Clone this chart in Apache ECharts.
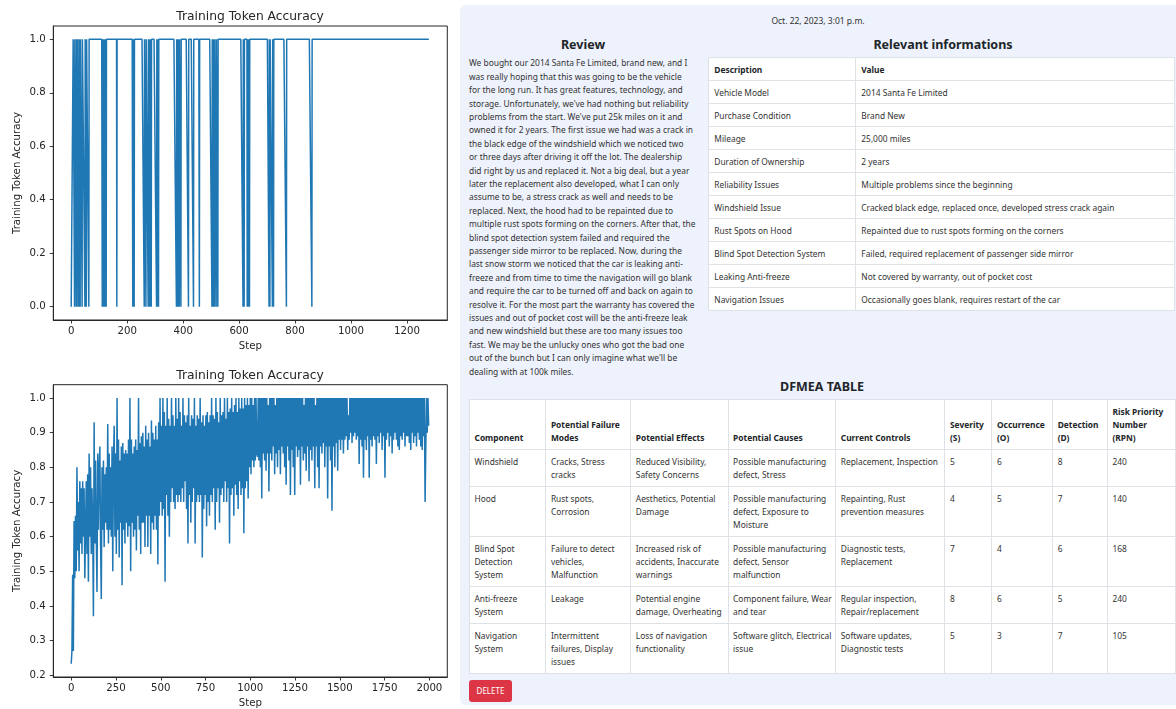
<!DOCTYPE html>
<html>
<head>
<meta charset="utf-8">
<script src="https://cdn.jsdelivr.net/npm/echarts@6/dist/echarts.min.js"></script>
<style>
  html,body{margin:0;padding:0;}
  body{width:1176px;height:709px;overflow:hidden;background:#fff;font-family:'Noto Sans',sans-serif;color:#212529;position:relative;}
  #chart{position:absolute;left:0;top:0;width:460px;height:709px;}
  #panel{position:absolute;left:460px;top:5px;width:740px;height:700px;background:#eef2fc;border-radius:6px;}
  .abs{position:absolute;}
  #date{left:0;width:716px;top:10px;text-align:center;font-size:8.5px;line-height:12px;color:#333;}
  h3{margin:0;font-weight:700;font-size:12.5px;line-height:16px;text-align:center;color:#212529;position:absolute;}
  #reviewHead{left:0;width:246px;top:32px;}
  #review{left:9px;top:51.3px;font-size:8.4px;line-height:13.4px;white-space:pre;color:#333;}
  #infoHead{left:248px;width:470px;top:32px;}
  table{border-collapse:collapse;background:#fff;position:absolute;table-layout:fixed;}
  td,th{border:1px solid #dee2e6;font-size:8.4px;line-height:13px;white-space:pre;text-align:left;color:#333;overflow:hidden;}
  th{font-weight:700;color:#212529;}
  #info{left:248.3px;top:52px;width:466px;}
  #info td,#info th{padding:4.5px 5px;vertical-align:middle;}
  #dfHead{left:0;width:724px;top:374.3px;}
  #dfmea{left:9px;top:394.3px;width:706px;}
  #dfmea th{padding:5px 4.5px;vertical-align:bottom;}
  #dfmea td{padding:5px 4.5px;vertical-align:top;}
  #del{left:9px;top:675px;width:43px;height:22px;background:#dc3545;border-radius:3px;color:#fff;font-size:8px;line-height:22px;text-align:center;}
</style>
</head>
<body>
<div id="chart"></div>
<div id="panel">
  <div id="date" class="abs">Oct. 22, 2023, 3:01 p.m.</div>
  <h3 id="reviewHead">Review</h3>
  <div id="review" class="abs"></div>
  <h3 id="infoHead">Relevant informations</h3>
  <table id="info"></table>
  <h3 id="dfHead">DFMEA TABLE</h3>
  <table id="dfmea"></table>
  <div id="del" class="abs">DELETE</div>
</div>
<script>
// ---------------- chart data ----------------
const chartTitle = 'Training Token Accuracy';
const xAxisName = 'Step';
const yAxisName = 'Training Token Accuracy';

// Top chart: accuracy is 1.0 except at these steps, where it drops to 0.0
const topLastStep = 1280;
const topZeroSteps = [0,1,2,3,4,5,6,12,18,21,27,32,39,49,54,63,111,115,119,122,125,163,220,225,
  261,267,275,279,283,286,305,309,312,376,381,386,392,419,437,458,503,508,512,518,524,
  614,618,629,633,637,707,710,719,723,769,860];
const topXTicks = [0,200,400,600,800,1000,1200];
const topYTicks = [0,0.2,0.4,0.6,0.8,1.0];

// Bottom chart: accuracy read every 4 steps (step 0 .. 1996), 20 values per row = 80 steps
const bottomStepSize = 4;
const bottomAccuracy = [
  0.233,0.27,0.49,0.27,0.645,0.48,0.66,0.50,0.80,0.56,0.70,0.50,0.76,0.58,0.74,0.55,0.76,0.60,0.74,0.48,
  0.62,0.76,0.55,0.78,0.47,0.84,0.60,0.80,0.55,0.74,0.62,0.37,0.93,0.58,0.82,0.60,0.44,0.84,0.62,0.80,
  0.86,0.58,0.42,0.80,0.62,0.82,0.57,0.78,0.64,0.80,0.62,0.925,0.58,0.84,0.62,0.80,0.60,0.86,0.50,0.82,
  0.92,0.60,0.84,0.55,1.0,0.62,0.88,0.54,0.82,0.64,0.86,0.46,0.87,0.62,0.84,0.58,0.85,0.64,0.84,0.60,
  0.88,0.63,1.0,0.50,0.88,0.64,0.84,0.60,0.86,0.62,0.88,0.56,0.85,0.66,1.0,0.62,0.87,0.55,0.89,0.64,
  0.90,0.64,0.86,0.57,0.92,0.66,0.88,0.57,0.90,0.66,0.86,0.55,0.935,0.64,0.90,0.62,0.88,0.66,0.92,0.62,
  0.88,0.52,0.93,0.66,1.0,0.70,0.92,0.66,1.0,0.68,0.96,0.47,0.92,0.72,1.0,0.66,0.94,0.60,0.92,0.70,
  1.0,0.74,0.95,0.70,0.92,0.68,1.0,0.72,0.94,0.70,1.0,0.72,0.96,0.70,0.92,0.74,1.0,0.70,0.95,0.76,
  0.93,0.68,0.95,0.58,1.0,0.72,0.92,0.64,0.95,0.70,0.94,0.74,1.0,0.58,0.92,0.70,0.95,0.72,0.94,0.70,
  1.0,0.72,0.93,0.54,0.95,0.68,0.92,0.72,0.95,0.63,0.96,0.70,0.93,0.66,0.95,0.72,1.0,0.70,0.95,0.74,
  0.94,0.62,1.0,0.70,0.96,0.74,0.93,0.64,1.0,0.72,0.95,0.74,0.96,0.70,1.0,0.76,0.94,0.70,1.0,0.74,
  0.96,0.58,0.97,0.72,1.0,0.74,0.96,0.66,0.98,0.75,1.0,0.72,0.96,0.68,1.0,0.76,0.97,0.72,1.0,0.74,
  0.97,0.61,1.0,0.74,0.98,0.76,1.0,0.71,0.98,0.80,1.0,0.78,1.0,0.82,0.98,0.80,1.0,0.82,1.0,0.84,
  0.83,1.0,0.82,1.0,0.80,1.0,0.71,1.0,0.84,1.0,0.82,1.0,0.79,1.0,0.84,0.98,0.73,1.0,0.84,1.0,
  0.82,1.0,0.86,1.0,0.78,0.98,0.84,1.0,0.80,1.0,0.85,1.0,0.78,1.0,0.86,1.0,0.84,1.0,0.80,1.0,
  0.75,1.0,0.86,1.0,0.82,1.0,0.72,1.0,0.85,1.0,0.80,1.0,0.72,1.0,0.86,1.0,0.83,1.0,0.85,1.0,
  0.75,1.0,0.86,1.0,0.82,0.98,0.84,1.0,0.79,1.0,0.86,1.0,0.76,1.0,0.85,1.0,0.82,1.0,0.86,1.0,
  0.74,0.98,0.86,1.0,0.80,1.0,0.74,1.0,0.86,1.0,0.84,1.0,0.87,1.0,0.80,1.0,0.86,1.0,0.71,1.0,
  0.86,1.0,0.82,1.0,0.675,1.0,0.86,1.0,0.80,1.0,0.87,1.0,0.79,1.0,0.88,1.0,0.85,1.0,0.88,1.0,
  0.84,1.0,0.88,1.0,0.89,1.0,0.85,0.95,0.88,1.0,0.90,1.0,0.87,1.0,0.89,1.0,0.90,1.0,0.88,1.0,
  0.89,1.0,0.81,1.0,0.88,1.0,0.86,1.0,0.77,1.0,0.88,1.0,0.85,1.0,0.89,1.0,0.77,1.0,0.88,1.0,
  0.86,1.0,0.89,1.0,0.88,1.0,0.81,1.0,0.89,1.0,0.87,1.0,0.90,1.0,0.85,1.0,0.89,1.0,0.77,1.0,
  0.88,1.0,0.90,1.0,0.86,1.0,0.89,1.0,0.84,1.0,0.88,1.0,0.90,1.0,0.88,1.0,0.86,1.0,0.85,1.0,
  0.89,1.0,0.88,1.0,0.90,1.0,0.86,1.0,0.89,1.0,0.89,1.0,0.87,1.0,0.85,1.0,0.90,1.0,0.87,1.0,
  0.89,1.0,0.86,1.0,0.90,1.0,0.88,1.0,0.86,1.0,0.85,1.0,0.89,1.0,0.70,0.86,1.0,0.90,1.0,0.92
];
const bottomXTicks = [0,250,500,750,1000,1250,1500,1750,2000];
const bottomYTicks = [0.2,0.3,0.4,0.5,0.6,0.7,0.8,0.9,1.0];

// ---------------- page text data ----------------
const reviewLines = [
  "We bought our 2014 Santa Fe Limited, brand new, and I",
  "was really hoping that this was going to be the vehicle",
  "for the long run. It has great features, technology, and",
  "storage. Unfortunately, we've had nothing but reliability",
  "problems from the start. We've put 25k miles on it and",
  "owned it for 2 years. The first issue we had was a crack in",
  "the black edge of the windshield which we noticed two",
  "or three days after driving it off the lot. The dealership",
  "did right by us and replaced it. Not a big deal, but a year",
  "later the replacement also developed, what I can only",
  "assume to be, a stress crack as well and needs to be",
  "replaced. Next, the hood had to be repainted due to",
  "multiple rust spots forming on the corners. After that, the",
  "blind spot detection system failed and required the",
  "passenger side mirror to be replaced. Now, during the",
  "last snow storm we noticed that the car is leaking anti-",
  "freeze and from time to time the navigation will go blank",
  "and require the car to be turned off and back on again to",
  "resolve it. For the most part the warranty has covered the",
  "issues and out of pocket cost will be the anti-freeze leak",
  "and new windshield but these are too many issues too",
  "fast. We may be the unlucky ones who got the bad one",
  "out of the bunch but I can only imagine what we'll be",
  "dealing with at 100k miles."
];
const infoHeader = ["Description", "Value"];
const infoRows = [
  ["Vehicle Model", "2014 Santa Fe Limited"],
  ["Purchase Condition", "Brand New"],
  ["Mileage", "25,000 miles"],
  ["Duration of Ownership", "2 years"],
  ["Reliability Issues", "Multiple problems since the beginning"],
  ["Windshield Issue", "Cracked black edge, replaced once, developed stress crack again"],
  ["Rust Spots on Hood", "Repainted due to rust spots forming on the corners"],
  ["Blind Spot Detection System", "Failed, required replacement of passenger side mirror"],
  ["Leaking Anti-freeze", "Not covered by warranty, out of pocket cost"],
  ["Navigation Issues", "Occasionally goes blank, requires restart of the car"]
];
const dfmeaHeader = ["Component", "Potential Failure\nModes", "Potential Effects", "Potential Causes",
  "Current Controls", "Severity\n(S)", "Occurrence\n(O)", "Detection\n(D)", "Risk Priority\nNumber\n(RPN)"];
const dfmeaRows = [
  ["Windshield", "Cracks, Stress\ncracks", "Reduced Visibility,\nSafety Concerns", "Possible manufacturing\ndefect, Stress", "Replacement, Inspection", "5", "6", "8", "240"],
  ["Hood", "Rust spots,\nCorrosion", "Aesthetics, Potential\nDamage", "Possible manufacturing\ndefect, Exposure to\nMoisture", "Repainting, Rust\nprevention measures", "4", "5", "7", "140"],
  ["Blind Spot\nDetection\nSystem", "Failure to detect\nvehicles,\nMalfunction", "Increased risk of\naccidents, Inaccurate\nwarnings", "Possible manufacturing\ndefect, Sensor\nmalfunction", "Diagnostic tests,\nReplacement", "7", "4", "6", "168"],
  ["Anti-freeze\nSystem", "Leakage", "Potential engine\ndamage, Overheating", "Component failure, Wear\nand tear", "Regular inspection,\nRepair/replacement", "8", "6", "5", "240"],
  ["Navigation\nSystem", "Intermittent\nfailures, Display\nissues", "Loss of navigation\nfunctionality", "Software glitch, Electrical\nissue", "Software updates,\nDiagnostic tests", "5", "3", "7", "105"]
];

// ---------------- build page ----------------
document.getElementById('review').textContent = reviewLines.join('\n');
function buildTable(el, header, rows, widths) {
  let html = '<colgroup>' + widths.map(w => '<col style="width:' + w + 'px">').join('') + '</colgroup>';
  html += '<tr>' + header.map(h => '<th>' + h + '</th>').join('') + '</tr>';
  rows.forEach(r => { html += '<tr>' + r.map(c => '<td>' + c + '</td>').join('') + '</tr>'; });
  el.innerHTML = html;
}
buildTable(document.getElementById('info'), infoHeader, infoRows, [147, 319]);
buildTable(document.getElementById('dfmea'), dfmeaHeader, dfmeaRows, [76.4, 84.9, 97.3, 107.7, 109.2, 47, 60.7, 54.8, 67.6]);

// ---------------- chart ----------------
const zeroSet = new Set(topZeroSteps);
const topData = [];
for (let s = 0; s <= topLastStep; s++) topData.push([s, zeroSet.has(s) ? 0 : 1]);
const bottomData = bottomAccuracy.map((v, i) => [i * bottomStepSize, v]);

const FONT = 'DejaVu Sans';
const TXT = '#262626';
function xAxis(gi, min, max, ticks) {
  return {
    type: 'value', gridIndex: gi, min: min, max: max,
    axisLine: { show: true, onZero: false, lineStyle: { color: TXT, width: 1 } },
    splitLine: { show: false },
    axisTick: { show: true, customValues: ticks, length: 3.5, lineStyle: { color: TXT, width: 0.9 } },
    axisLabel: { customValues: ticks, margin: 6, color: TXT, fontFamily: FONT, fontSize: 10.2,
      formatter: v => String(v) },
    name: xAxisName, nameLocation: 'middle', nameGap: 21, nameMoveOverlap: false,
    nameTextStyle: { color: TXT, fontFamily: FONT, fontSize: 10.2 }
  };
}
function yAxis(gi, min, max, ticks) {
  return {
    type: 'value', gridIndex: gi, min: min, max: max,
    axisLine: { show: true, onZero: false, lineStyle: { color: TXT, width: 1 } },
    splitLine: { show: false },
    axisTick: { show: true, customValues: ticks, length: 3.5, lineStyle: { color: TXT, width: 0.9 } },
    axisLabel: { customValues: ticks, margin: 7.5, color: TXT, fontFamily: FONT, fontSize: 10.2,
      formatter: v => v.toFixed(1) },
    name: yAxisName, nameLocation: 'middle', nameGap: 31, nameRotate: 90, nameMoveOverlap: false,
    nameTextStyle: { color: TXT, fontFamily: FONT, fontSize: 10.2 }
  };
}
const lineSeries = (gi, data) => ({
  type: 'line', xAxisIndex: gi, yAxisIndex: gi, data: data, showSymbol: false, symbol: 'none',
  sampling: null, lineStyle: { color: '#1f77b4', width: 1.5 }, itemStyle: { color: '#1f77b4' },
  emphasis: { disabled: true }, silent: true
});

const chart = echarts.init(document.getElementById('chart'), null, { renderer: 'canvas' });
chart.setOption({
  animation: false,
  backgroundColor: '#fff',
  title: [
    { text: chartTitle, left: 250, top: 10.5, textAlign: 'center', padding: 0,
      textStyle: { fontFamily: FONT, fontSize: 12.3, fontWeight: 'normal', color: TXT } },
    { text: chartTitle, left: 250, top: 369.5, textAlign: 'center', padding: 0,
      textStyle: { fontFamily: FONT, fontSize: 12.3, fontWeight: 'normal', color: TXT } }
  ],
  grid: [
    { left: 53.3, top: 26, width: 394, height: 294, show: true, borderColor: TXT, borderWidth: 1, backgroundColor: 'transparent' },
    { left: 53.3, top: 384.7, width: 394, height: 293, show: true, borderColor: TXT, borderWidth: 1, backgroundColor: 'transparent' }
  ],
  xAxis: [ xAxis(0, -64, 1344, topXTicks), xAxis(1, -100, 2100, bottomXTicks) ],
  yAxis: [ yAxis(0, -0.05, 1.05, topYTicks), yAxis(1, 0.195, 1.0385, bottomYTicks) ],
  series: [ lineSeries(0, topData), lineSeries(1, bottomData) ]
});
</script>
</body>
</html>
